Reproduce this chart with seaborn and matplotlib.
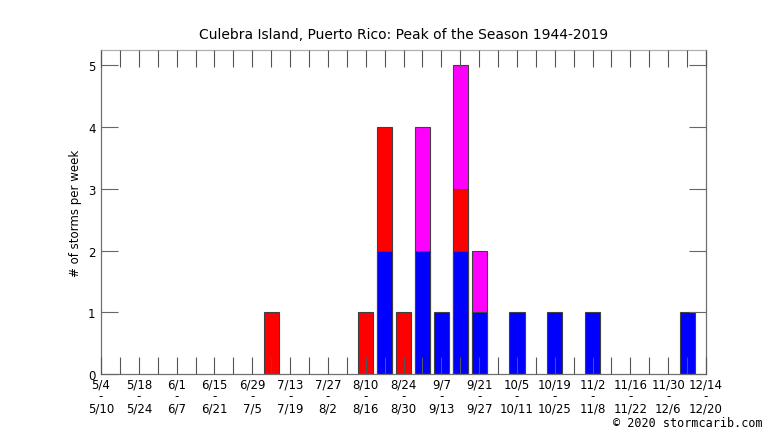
import numpy as np
import pandas as pd
import seaborn as sns
import matplotlib.pyplot as plt

# week index (0 = 5/4-5/10) and storm counts per class
weeks = [9, 14, 15, 16, 17, 18, 19, 20, 22, 24, 26, 31]
tropical = [0, 0, 2, 0, 2, 1, 2, 1, 1, 1, 1, 1]
hurricane = [1, 1, 2, 1, 0, 0, 1, 0, 0, 0, 0, 0]
major = [0, 0, 0, 0, 2, 0, 2, 1, 0, 0, 0, 0]

start_dates = ['5/4', '5/18', '6/1', '6/15', '6/29', '7/13', '7/27', '8/10', '8/24',
               '9/7', '9/21', '10/5', '10/19', '11/2', '11/16', '11/30', '12/14']
end_dates = ['5/10', '5/24', '6/7', '6/21', '7/5', '7/19', '8/2', '8/16', '8/30',
             '9/13', '9/27', '10/11', '10/25', '11/8', '11/22', '12/6', '12/20']

df = pd.DataFrame({'week': weeks, 'ts': tropical, 'hu': hurricane, 'mh': major})
df['lvl1'] = df['ts']
df['lvl2'] = df['ts'] + df['hu']
df['lvl3'] = df['ts'] + df['hu'] + df['mh']

sns.set_style('white')
plt.rcParams['font.family'] = ['DejaVu Sans']
plt.rcParams['text.color'] = 'black'
plt.rcParams['axes.labelcolor'] = 'black'
plt.rcParams['xtick.labelcolor'] = 'black'
plt.rcParams['ytick.labelcolor'] = 'black'

fig = plt.figure(figsize=(7.66, 4.31), dpi=100)
ax = fig.add_axes([0.1319, 0.1299, 0.7898, 0.7517])

layers = [('lvl3', 'mh', '#ff00ff'), ('lvl2', 'hu', '#ff0000'), ('lvl1', 'ts', '#0000ff')]
for col, part, color in layers:
    sub = df[df[part] > 0]
    sns.barplot(data=sub, x='week', y=col, native_scale=True, width=0.8,
                color=color, saturation=1, edgecolor='#404040', linewidth=0.8,
                errorbar=None, ax=ax)

ax.set_xlim(0, 32)
ax.set_ylim(0, 5.25)
ax.set_axisbelow(False)

labels = []
for i in range(33):
    if i % 2 == 0:
        labels.append(start_dates[i // 2] + '\n-\n' + end_dates[i // 2])
    else:
        labels.append('')
ax.set_xticks(range(33))
ax.set_xticklabels(labels, fontsize=8.5, linespacing=0.9, color='black')
ax.set_yticks(range(6))
ax.set_yticklabels([str(v) for v in range(6)], fontsize=8.5, color='black')

ax.tick_params(axis='x', direction='in', length=12.5, width=0.8, color='#555555',
               top=True, bottom=True, pad=2.5)
ax.tick_params(axis='y', direction='in', length=12, width=0.8, color='#666666',
               left=True, right=True, pad=4)

for side in ['left', 'right', 'bottom']:
    ax.spines[side].set_color('#707070')
    ax.spines[side].set_linewidth(0.9)
ax.spines['top'].set_color('#b0b0b0')
ax.spines['top'].set_linewidth(0.9)

ax.set_xlabel('')
ax.set_ylabel('# of storms per week', fontsize=8.5, labelpad=4, color='black')
ax.set_title('Culebra Island, Puerto Rico: Peak of the Season 1944-2019',
             fontsize=10, pad=9, color='black')

fig.text(0.995, 0.003, '\u00a9 2020 stormcarib.com', ha='right', va='bottom',
         fontsize=8.5, family='DejaVu Sans Mono', color='black')

fig.savefig('out.png', dpi=100)
